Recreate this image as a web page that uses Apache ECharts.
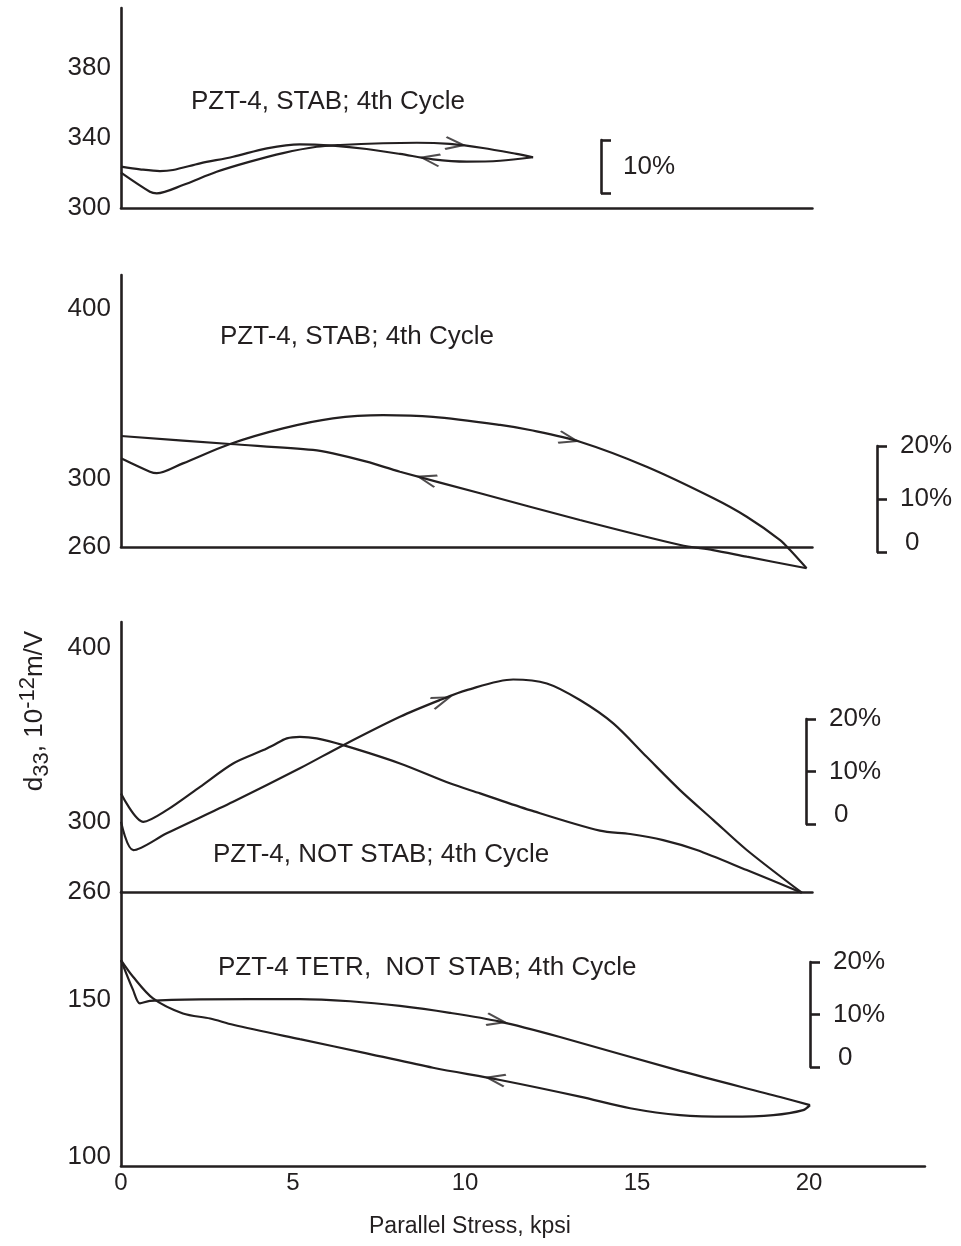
<!DOCTYPE html>
<html>
<head>
<meta charset="utf-8">
<script src="https://cdn.jsdelivr.net/npm/echarts@6/dist/echarts.min.js"></script>
<style>
  html, body { margin: 0; padding: 0; background: #ffffff; }
  #chart { width: 961px; height: 1246px; }
</style>
</head>
<body>
<div id="chart"></div>
<script>
// ---------------------------------------------------------------
// d33 of PZT-4 versus parallel stress, fourth loading cycle.
// Each loop is stored as [stress kpsi, d33 (10^-12 m/V)] pairs in the
// order the loop is traversed (loading branch, then unloading branch).
// ---------------------------------------------------------------

// Panel 1: PZT-4, STAB
const stabA_load = [[0, 320.2], [0.84, 309.3], [1.04, 308.4], [1.80, 313.1], [2.78, 320.7], [3.75, 326.5],
  [4.71, 331.4], [5.69, 335.0], [6.37, 336.0], [7.62, 337.0], [8.60, 337.3], [9.56, 336.6],
  [10.52, 334.3], [11.50, 330.9], [11.98, 329.0]];
const stabA_unload = [[11.98, 329.0], [11.02, 327.0], [10.05, 326.5], [9.07, 327.8], [8.11, 330.9],
  [7.14, 333.7], [6.16, 335.6], [5.20, 336.4], [4.24, 334.1], [3.26, 329.3], [2.30, 325.5],
  [1.51, 321.7], [1.13, 321.1], [0.55, 322.1], [0, 323.6]];

// Panel 2: PZT-4, STAB
const stabB_load = [[0, 312.2], [0.84, 304.3], [1.04, 303.4], [1.80, 309.2], [3.17, 320.6], [4.71, 329.8],
  [6.16, 335.7], [7.62, 337.6], [9.07, 336.6], [11.02, 331.8], [11.89, 328.8], [13.34, 321.9],
  [15.28, 307.2], [17.21, 288.8], [18.19, 277.8], [19.16, 264.1], [19.45, 258.2], [19.93, 247.5]];
const stabB_unload = [[19.93, 247.5], [18.19, 254.3], [17.21, 258.2], [16.26, 261.2], [13.34, 275.9],
  [10.44, 291.6], [8.11, 304.3], [7.14, 310.2], [6.16, 315.1], [5.58, 317.1], [3.17, 320.6], [0, 325.3]];

// Panel 3: PZT-4, NOT STAB
const notStab_load = [[0, 300.3], [0.36, 284.0], [1.33, 293.7], [3.26, 311.8], [5.20, 331.0], [6.46, 344.3],
  [8.11, 360.6], [9.27, 370.2], [10.05, 375.9], [11.40, 382.0], [12.38, 379.7], [13.34, 370.2],
  [14.31, 356.8], [15.28, 337.6], [16.25, 318.5], [17.22, 301.3], [18.19, 284.1], [19.79, 259.6]];
const notStab_unload = [[19.79, 259.6], [18.19, 272.6], [16.74, 284.1], [15.76, 289.8], [14.80, 293.3],
  [13.92, 295.2], [11.89, 307.0], [10.44, 316.6], [9.56, 322.4], [8.11, 333.8], [6.46, 344.3],
  [5.69, 348.2], [5.20, 349.1], [4.82, 348.2], [4.43, 344.3], [4.14, 341.5], [3.26, 333.8],
  [2.30, 320.4], [1.33, 307.0], [0.65, 300.3], [0, 316.6]];

// Panel 4: PZT-4 TETR, NOT STAB
const tetr_load = [[0, 162.6], [0.35, 153.1], [0.55, 148.8], [0.84, 149.6], [2.30, 150.1], [5.20, 150.2],
  [6.66, 149.5], [8.11, 148.0], [9.56, 145.8], [11.02, 143.0], [12.76, 138.1], [16.25, 127.3],
  [19.16, 119.0], [20.03, 116.4]];
const tetr_unload = [[20.03, 116.4], [19.83, 114.8], [18.96, 113.2], [17.70, 112.7], [16.25, 113.2],
  [14.80, 115.4], [13.34, 119.1], [11.02, 124.4], [9.07, 128.3], [7.14, 132.9], [5.20, 137.4],
  [3.26, 142.0], [2.59, 144.0], [1.80, 145.6], [0.93, 150.4], [0.35, 157.3], [0, 162.6]];

// Direction arrowheads: [stress, d33] on the branch they belong to
const stabA_loadArrow = [9.7, 336.5];
const stabA_unloadArrow = [9.0, 328.0];
const stabB_loadArrow = [13.0, 323.5];
const stabB_unloadArrow = [8.9, 300.0];
const notStab_loadArrow = [9.3, 370.0];
const tetr_loadArrow = [10.9, 143.3];
const tetr_unloadArrow = [10.9, 124.7];

// Axis ticks and ranges
const stressTicks = [0, 5, 10, 15, 20];
const d33Ticks = [[300, 340, 380], [260, 300, 400], [260, 300, 400], [100, 150]];
const d33Range = [[300, 414.3], [260, 420], [260, 415], [97, 184.3]];
const stressMax = [20.1, 20.1, 20.1, 23.37];

// Relative-change scale bars (percent of d33)
const pctTicks = [[0, 10], [0, 10, 20], [0, 10, 20], [0, 10, 20]];
const pctMax = [10, 20, 20, 20];

const panelTitles = ['PZT-4, STAB; 4th Cycle', 'PZT-4, STAB; 4th Cycle',
  'PZT-4, NOT STAB; 4th Cycle', 'PZT-4 TETR,  NOT STAB; 4th Cycle'];
const stressTitle = 'Parallel Stress, kpsi';

// ---------------------------------------------------------------
// Layout and styling
// ---------------------------------------------------------------
const INK = '#231f20';
const FONT = "'Liberation Sans', Arial, Helvetica, sans-serif";
const KPSI_PX = 34.4;   // horizontal pixels per kpsi, shared by all panels
const AXIS_X = 121;     // x of the common vertical axis

const panelBoxes = [
  { top: 8, height: 200 },
  { top: 275, height: 272 },
  { top: 622, height: 270 },
  { top: 892, height: 274 }
];
const barBoxes = [
  { left: 601, top: 140, height: 53 },
  { left: 877, top: 446, height: 106 },
  { left: 806, top: 719, height: 105 },
  { left: 810, top: 962, height: 105 }
];
const titlePos = [[191, 102], [220, 337], [213, 855], [218, 968]];

const curves = [
  { panel: 0, data: stabA_load, arrows: [stabA_loadArrow] },
  { panel: 0, data: stabA_unload, arrows: [stabA_unloadArrow] },
  { panel: 1, data: stabB_load, arrows: [stabB_loadArrow] },
  { panel: 1, data: stabB_unload, arrows: [stabB_unloadArrow] },
  { panel: 2, data: notStab_load, arrows: [notStab_loadArrow] },
  { panel: 2, data: notStab_unload, arrows: [] },
  { panel: 3, data: tetr_load, arrows: [tetr_loadArrow] },
  { panel: 3, data: tetr_unload, arrows: [tetr_unloadArrow] }
];

const grid = [], xAxis = [], yAxis = [];

panelBoxes.forEach((b, i) => {
  grid.push({ left: AXIS_X, top: b.top, width: stressMax[i] * KPSI_PX, height: b.height });
  const isBottom = i === panelBoxes.length - 1;
  xAxis.push({
    type: 'value', gridIndex: i, min: 0, max: stressMax[i],
    axisLine: { show: true, onZero: false, lineStyle: { color: INK, width: 2.6 } },
    axisTick: { show: false },
    splitLine: { show: false },
    axisLabel: isBottom ? {
      show: true, customValues: stressTicks, color: INK, fontSize: 24, fontFamily: FONT, margin: 5
    } : { show: false }
  });
  yAxis.push({
    type: 'value', gridIndex: i, min: d33Range[i][0], max: d33Range[i][1],
    axisLine: { show: true, onZero: false, lineStyle: { color: INK, width: 2.6 } },
    axisTick: { show: false },
    splitLine: { show: false },
    axisLabel: { show: true, customValues: d33Ticks[i], color: INK, fontSize: 26, fontFamily: FONT, margin: 10 }
  });
});

barBoxes.forEach((b, k) => {
  const gi = panelBoxes.length + k;
  grid.push({ left: b.left, top: b.top, width: 10, height: b.height });
  xAxis.push({ type: 'value', gridIndex: gi, show: false });
  const single = pctTicks[k].length === 2;
  yAxis.push({
    type: 'value', gridIndex: gi, min: 0, max: pctMax[k],
    axisLine: { show: true, onZero: false, lineStyle: { color: INK, width: 2.6 } },
    axisTick: { show: true, inside: true, length: 10, customValues: pctTicks[k], lineStyle: { color: INK, width: 2.6 } },
    splitLine: { show: false },
    axisLabel: {
      show: true, inside: true, margin: single ? 22 : 23, color: INK, fontSize: 26, fontFamily: FONT,
      customValues: single ? [pctMax[k] / 2] : pctTicks[k],
      formatter: v => single ? pctMax[k] + '%' : (v === 0 ? '{z|0}' : v + '%'),
      rich: { z: { fontSize: 26, fontFamily: FONT, color: INK, padding: [0, 0, 18, 5] } }
    }
  });
});

const lineSeries = curves.map(c => ({
  type: 'line', xAxisIndex: c.panel, yAxisIndex: c.panel, data: c.data,
  smooth: 0.3, symbol: 'none', clip: false, silent: true,
  lineStyle: { color: INK, width: 2.2 }
}));

const graphic = panelTitles.map((t, i) => ({
  type: 'text', x: titlePos[i][0], y: titlePos[i][1], silent: true,
  style: { text: t, fill: INK, font: '26px ' + FONT, align: 'left', verticalAlign: 'middle' }
}));
graphic.push({
  type: 'text', x: 470, y: 1227, silent: true,
  style: { text: stressTitle, fill: INK, font: '23px ' + FONT, align: 'center', verticalAlign: 'middle' }
});
graphic.push({
  type: 'text', x: 35, y: 711, rotation: Math.PI / 2, silent: true,
  style: {
    text: '{m|d}{s|33}{m|, 10}{p|-12}{m|m/V}',
    fill: INK, align: 'center', verticalAlign: 'middle',
    rich: {
      m: { fontSize: 26, fontFamily: FONT, lineHeight: 36, fill: INK },
      s: { fontSize: 22, fontFamily: FONT, lineHeight: 22, verticalAlign: 'bottom', fill: INK },
      p: { fontSize: 22, fontFamily: FONT, lineHeight: 22, verticalAlign: 'top', fill: INK }
    }
  }
});

const chart = echarts.init(document.getElementById('chart'), null, { renderer: 'canvas' });
chart.setOption({
  animation: false,
  backgroundColor: '#ffffff',
  grid, xAxis, yAxis,
  series: lineSeries,
  graphic
});

// Orient each arrowhead along the branch it sits on, in traversal order.
function segDist(p, a, b) {
  const dx = b[0] - a[0], dy = b[1] - a[1];
  const L = dx * dx + dy * dy || 1;
  let t = ((p[0] - a[0]) * dx + (p[1] - a[1]) * dy) / L;
  t = Math.max(0, Math.min(1, t));
  const qx = a[0] + t * dx - p[0], qy = a[1] + t * dy - p[1];
  return Math.sqrt(qx * qx + qy * qy);
}
const arrowSeries = [];
curves.forEach(c => {
  if (!c.arrows.length) return;
  const pix = c.data.map(p => chart.convertToPixel({ gridIndex: c.panel }, p));
  const items = c.arrows.map(a => {
    const q = chart.convertToPixel({ gridIndex: c.panel }, a);
    let best = 0, bestD = Infinity;
    for (let i = 0; i < pix.length - 1; i++) {
      const d = segDist(q, pix[i], pix[i + 1]);
      if (d < bestD) { bestD = d; best = i; }
    }
    const dx = pix[best + 1][0] - pix[best][0];
    const dy = pix[best + 1][1] - pix[best][1];
    return { value: a, symbolRotate: Math.atan2(-dy, dx) * 180 / Math.PI };
  });
  arrowSeries.push({
    type: 'scatter', xAxisIndex: c.panel, yAxisIndex: c.panel, data: items, silent: true,
    symbol: 'path://M0,0L12,6L0,12', symbolSize: [18, 12],
    itemStyle: { color: 'none', borderColor: INK, borderWidth: 2.3 }
  });
});
chart.setOption({ series: lineSeries.concat(arrowSeries) });
</script>
</body>
</html>
